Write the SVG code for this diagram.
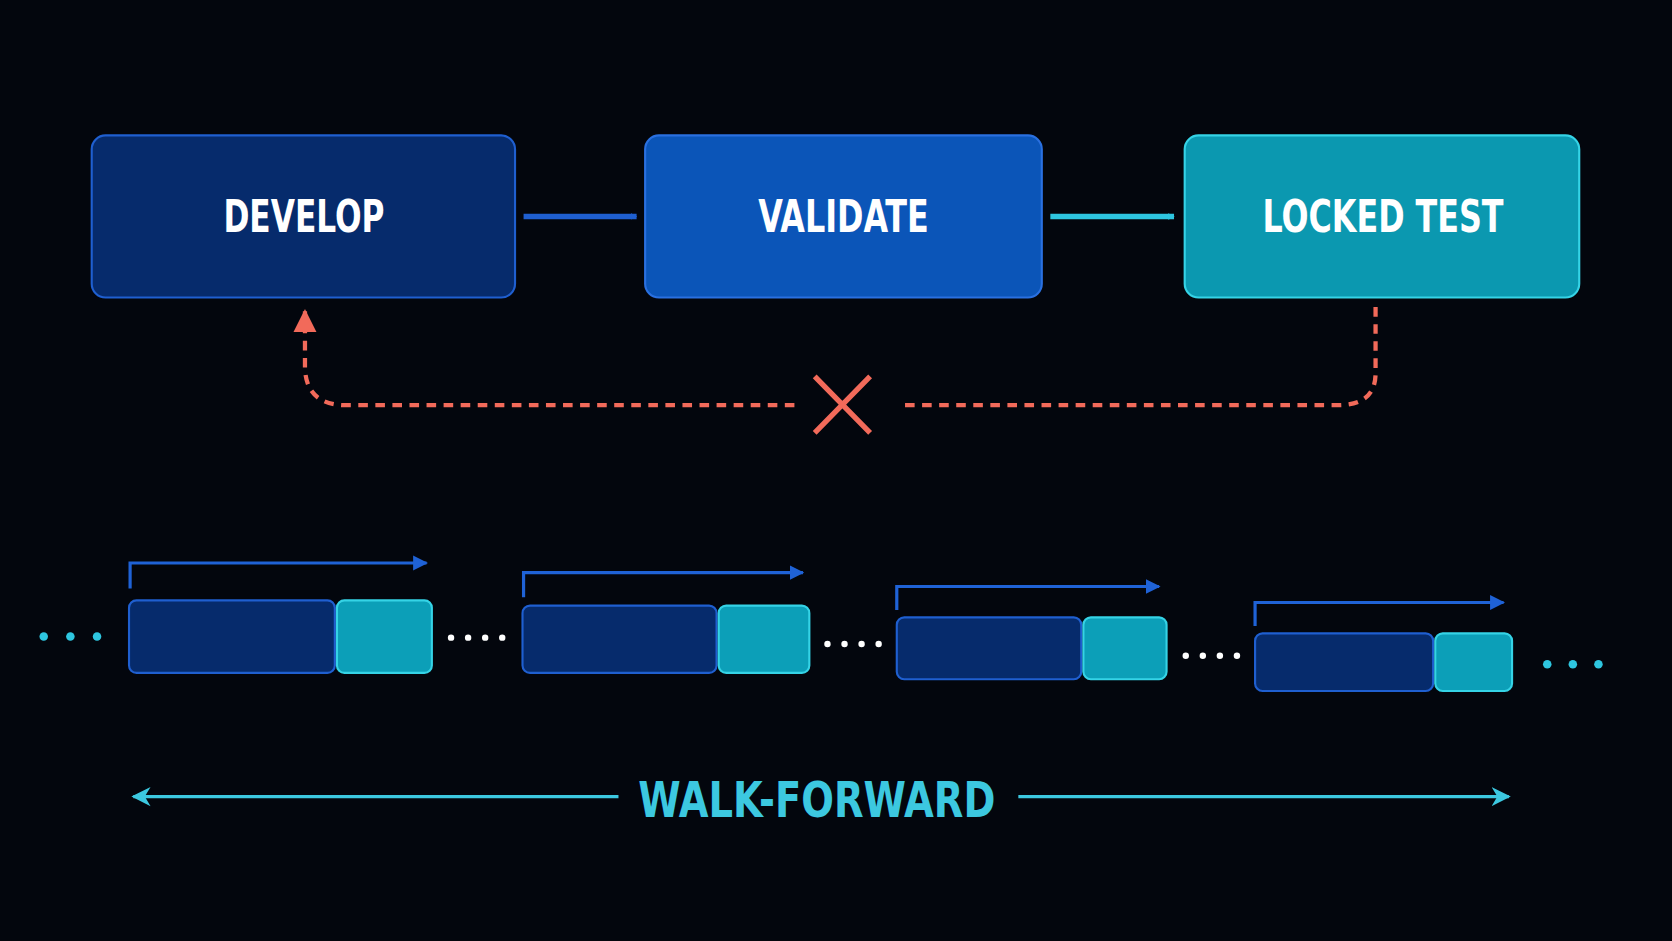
<svg xmlns="http://www.w3.org/2000/svg" width="1672" height="941" viewBox="0 0 1672 941">
<style>
.lbl{font-family:"DejaVu Sans","Liberation Sans",sans-serif;font-weight:bold;font-stretch:condensed;fill:#fff;font-size:42px;text-anchor:middle}
.dk{fill:#062b6c;stroke:#1f5fd0;stroke-width:2}
.tl{fill:#0c9fb8;stroke:#35d3e6;stroke-width:2}
.br{fill:none;stroke:#1f62d6;stroke-width:3}
.cd{fill:#2ec6e0}.wd{fill:#fff}
</style>
<defs>
<marker id="ab" viewBox="0 0 10 10" refX="9" refY="5" markerWidth="6" markerHeight="6" orient="auto" markerUnits="userSpaceOnUse"><path d="M0,0L10,5L0,10z" fill="#1f5fd0"/></marker>
<marker id="ac" viewBox="0 0 10 10" refX="9" refY="5" markerWidth="6" markerHeight="6" orient="auto" markerUnits="userSpaceOnUse"><path d="M0,0L10,5L0,10z" fill="#2ec6e0"/></marker>
<marker id="sb" viewBox="0 0 10 10" refX="9" refY="5" markerWidth="14" markerHeight="18" orient="auto" markerUnits="userSpaceOnUse"><path d="M0,0L10,5L0,10z" fill="#1f62d6"/></marker>
<marker id="sc" viewBox="0 0 10 10" refX="9" refY="5" markerWidth="18" markerHeight="20" orient="auto" markerUnits="userSpaceOnUse"><path d="M0,0L10,5L0,10L3,5z" fill="#3cc8e0"/></marker>
<marker id="ar" viewBox="0 0 10 10" refX="9" refY="5" markerWidth="22" markerHeight="28" orient="auto" markerUnits="userSpaceOnUse"><path d="M0,0L10,5L0,10z" fill="#f26a5a"/></marker>
</defs>
<rect width="1672" height="941" fill="#03060d"/>
<g transform="scale(1.06633)">
<g id="develop"><rect x="86" y="127" width="397" height="152" rx="13" fill="#062b6c" stroke="#1f5fd0" stroke-width="2"/><text class="lbl" x="285" y="218" textLength="151" lengthAdjust="spacingAndGlyphs">DEVELOP</text></g>
<g id="validate"><rect x="605" y="127" width="372" height="152" rx="13" fill="#0b55b8" stroke="#2a70e0" stroke-width="2"/><text class="lbl" x="791" y="218" textLength="160" lengthAdjust="spacingAndGlyphs">VALIDATE</text></g>
<g id="locked"><rect x="1111" y="127" width="370" height="152" rx="13" fill="#0b98b0" stroke="#35d3e6" stroke-width="2"/><text class="lbl" x="1297" y="218" textLength="226" lengthAdjust="spacingAndGlyphs">LOCKED TEST</text></g>
<g id="connectors">
<line x1="491" y1="203" x2="597" y2="203" stroke="#1f5fd0" stroke-width="5" marker-end="url(#ab)"/>
<line x1="985" y1="203" x2="1101" y2="203" stroke="#2ec6e0" stroke-width="5" marker-end="url(#ac)"/>
<path d="M1290,288V350Q1290,380 1255,380H843" fill="none" stroke="#f26a5a" stroke-width="4" stroke-dasharray="9,7"/>
<path d="M745,380H325Q287,380 286,345V292" fill="none" stroke="#f26a5a" stroke-width="4" stroke-dasharray="9,7" marker-end="url(#ar)"/>
<path d="M764,353L816,406M816,353L764,406" stroke="#f26a5a" stroke-width="5"/>
</g>
<g id="windows">
<path class="br" d="M122,552V528H400" marker-end="url(#sb)"/>
<rect class="dk" x="121" y="563" width="193" height="68" rx="7"/><rect class="tl" x="316" y="563" width="89" height="68" rx="7"/>
<path class="br" d="M491,560V537H753" marker-end="url(#sb)"/>
<rect class="dk" x="490" y="568" width="182" height="63" rx="7"/><rect class="tl" x="674" y="568" width="85" height="63" rx="7"/>
<path class="br" d="M841,572V550H1087" marker-end="url(#sb)"/>
<rect class="dk" x="841" y="579" width="173" height="58" rx="7"/><rect class="tl" x="1016" y="579" width="78" height="58" rx="7"/>
<path class="br" d="M1177,587V565H1410" marker-end="url(#sb)"/>
<rect class="dk" x="1177" y="594" width="167" height="54" rx="7"/><rect class="tl" x="1346" y="594" width="72" height="54" rx="7"/>
</g>
<g id="dots">
<circle class="cd" cx="41" cy="597" r="4"/><circle class="cd" cx="66" cy="597" r="4"/><circle class="cd" cx="91" cy="597" r="4"/>
<circle class="wd" cx="423" cy="598" r="3"/><circle class="wd" cx="439" cy="598" r="3"/><circle class="wd" cx="455" cy="598" r="3"/><circle class="wd" cx="471" cy="598" r="3"/>
<circle class="wd" cx="776" cy="604" r="3"/><circle class="wd" cx="792" cy="604" r="3"/><circle class="wd" cx="808" cy="604" r="3"/><circle class="wd" cx="824" cy="604" r="3"/>
<circle class="wd" cx="1112" cy="615" r="3"/><circle class="wd" cx="1128" cy="615" r="3"/><circle class="wd" cx="1144" cy="615" r="3"/><circle class="wd" cx="1160" cy="615" r="3"/>
<circle class="cd" cx="1451" cy="623" r="4"/><circle class="cd" cx="1475" cy="623" r="4"/><circle class="cd" cx="1499" cy="623" r="4"/>
</g>
<g id="walkforward">
<line x1="580" y1="747" x2="125" y2="747" stroke="#3cc8e0" stroke-width="3" marker-end="url(#sc)"/>
<line x1="955" y1="747" x2="1415" y2="747" stroke="#3cc8e0" stroke-width="3" marker-end="url(#sc)"/>
<text x="766" y="766" font-family="DejaVu Sans,Liberation Sans,sans-serif" font-weight="bold" font-stretch="condensed" font-size="46" fill="#3cc8e0" text-anchor="middle" textLength="335" lengthAdjust="spacingAndGlyphs">WALK-FORWARD</text>
</g>
</g>
</svg>
